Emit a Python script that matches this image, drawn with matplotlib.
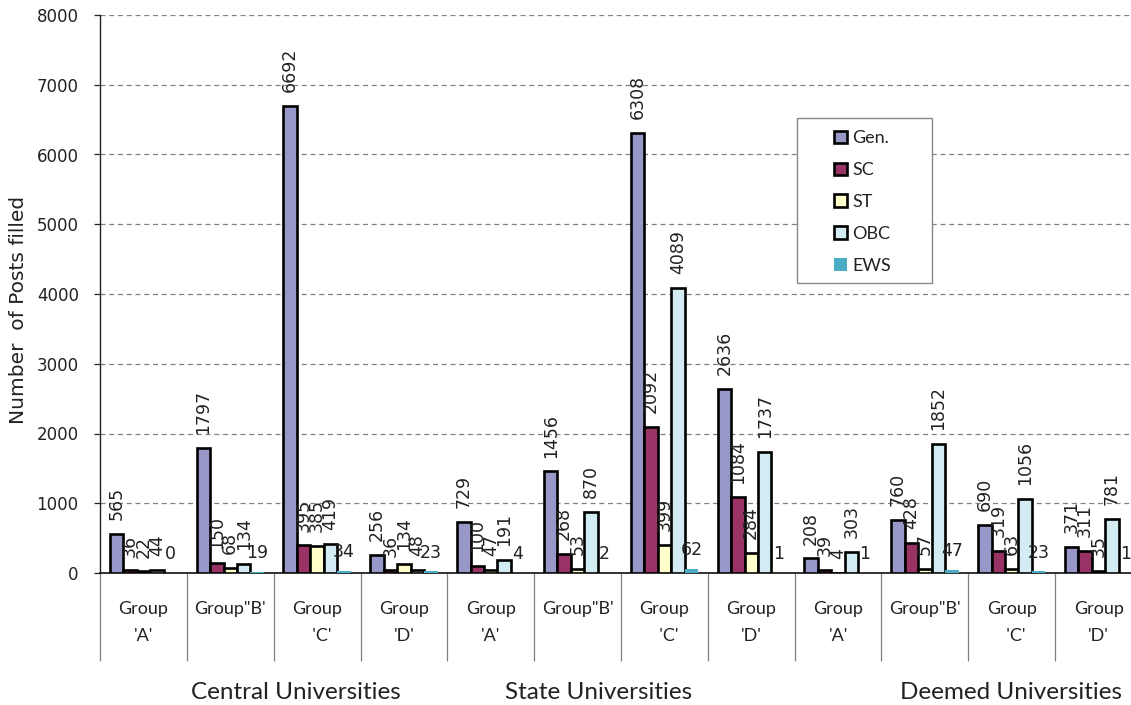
import matplotlib
matplotlib.use("Agg")
import matplotlib.pyplot as plt
import numpy as np
from matplotlib.patches import Rectangle, Patch

categories = ["Group\n'A'", "Group\"B'", "Group\n  'C'", "Group\n'D'",
              "Group\n'A'", "Group\"B'", "Group\n  'C'", "Group\n'D'",
              "Group\n'A'", "Group\"B'", "Group\n  'C'", "Group\n'D'"]
universities = ["Central Universities", "State Universities", "Deemed Universities"]
series_names = ["Gen.", "SC", "ST", "OBC", "EWS"]

gen = [565, 1797, 6692, 256, 729, 1456, 6308, 2636, 208, 760, 690, 371]
sc = [36, 150, 395, 36, 100, 268, 2092, 1084, 39, 428, 319, 311]
st = [22, 68, 385, 134, 47, 53, 399, 284, 4, 57, 63, 35]
obc = [44, 134, 419, 48, 191, 870, 4089, 1737, 303, 1852, 1056, 781]
ews = [0, 19, 34, 23, 4, 2, 62, 1, 1, 47, 23, 1]

yticks = [0, 1000, 2000, 3000, 4000, 5000, 6000, 7000, 8000]

colors = ["#9898C8", "#993366", "#FFFFCC", "#D3EBF3", "#4BACC6"]

W, H = 1131, 705
fig = plt.figure(figsize=(W / 100, H / 100), dpi=100)
ax = fig.add_axes([100 / W, (H - 573) / H, (1142 - 100) / W, (573 - 15) / H])

num_font = "DejaVu Sans"
txt_font = "Lato"

n = len(categories)
x = np.arange(n)
bw = 0.155
all_series = [gen, sc, st, obc, ews]
for k, vals in enumerate(all_series):
    xpos = x + (k - 2) * bw
    if k < 4:
        ax.bar(xpos, vals, width=bw, color=colors[k], edgecolor="black",
               linewidth=1.9, zorder=3)
    else:
        ax.bar(xpos, vals, width=bw, color=colors[k], edgecolor="none",
               linewidth=0, zorder=3)
    for xp, v in zip(xpos, vals):
        if k < 4:
            ax.annotate(str(v), (xp, v), xytext=(0, 10), textcoords="offset points",
                        rotation=90, ha="center", va="bottom", fontsize=12.5,
                        family=num_font, color="#222222", zorder=4)
        else:
            ax.annotate(str(v), (xp, v), xytext=(0, 7), textcoords="offset points",
                        rotation=0, ha="center", va="bottom", fontsize=12.5,
                        family=num_font, color="#222222", zorder=4)

ax.set_xlim(-0.5, n - 0.5)
ax.set_ylim(0, 8000)
ax.set_yticks(yticks)
ax.set_yticklabels([str(t) for t in yticks], family=num_font, fontsize=12)
ax.yaxis.grid(True, linestyle=(0, (4, 3)), color="#808080", linewidth=0.9, zorder=0)
ax.tick_params(axis="y", length=4.3, width=0.9, pad=11, colors="#222222",
               direction="out")

ax.set_xticks(x)
ax.set_xticklabels(categories, family=txt_font, fontsize=13, color="#222222",
                   linespacing=1.85)
ax.set_xticks(np.arange(n + 1) - 0.5, minor=True)
ax.tick_params(axis="x", which="major", length=0, pad=20)
ax.tick_params(axis="x", which="minor", length=63, width=0.9, color="#808080",
               direction="out")

for s in ["top", "right"]:
    ax.spines[s].set_visible(False)
ax.spines["left"].set_color("#222222")
ax.spines["bottom"].set_color("#111111")
ax.spines["left"].set_linewidth(1.0)
ax.spines["bottom"].set_linewidth(1.2)

ax.set_ylabel("Number  of Posts filled", family="DejaVu Sans", fontsize=14.5,
              color="#222222")
ax.yaxis.set_label_coords(-72 / 1042, 0.471)

uni_x = [1.76, 5.24, 9.99]
for ux, name in zip(uni_x, universities):
    ax.text(ux, -0.215, name, transform=ax.get_xaxis_transform(), ha="center",
            va="center", family=txt_font, fontsize=17.5, color="#222222")

handles = []
for k, name in enumerate(series_names):
    if k < 4:
        handles.append(Patch(facecolor=colors[k], edgecolor="black", linewidth=1.9, label=name))
    else:
        handles.append(Patch(facecolor=colors[k], edgecolor="none", label=name))

fig.patches.append(Rectangle((797 / W, 1 - 283 / H), (932 - 797) / W, (283 - 118) / H,
                             transform=fig.transFigure, facecolor="white",
                             edgecolor="#888888", linewidth=1.0, zorder=5))
leg = fig.legend(handles=handles, loc="upper left",
                 bbox_to_anchor=(818 / W, 1 - 114 / H), frameon=False,
                 handlelength=0.7, handleheight=0.7, handletextpad=0.3,
                 labelspacing=0.88, prop={"family": txt_font, "size": 13})
leg.set_zorder(6)
for t in leg.get_texts():
    t.set_color("#222222")

fig.savefig("out.png", dpi=100)
